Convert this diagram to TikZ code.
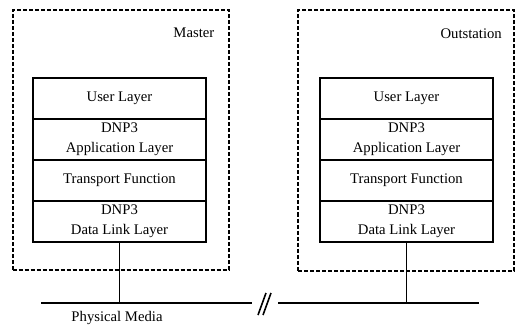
\documentclass[tikz,border=0pt]{standalone}
\usepackage{fontspec}
\setmainfont{Liberation Serif}
\usetikzlibrary{positioning}
\tikzset{
  layer/.style   = {draw,line width=2pt,minimum width=173pt,minimum height=41pt,
                    inner sep=0pt,outer sep=0pt,align=center,
                    font=\fontsize{14.7}{20}\selectfont},
  station/.style = {draw,line width=2pt,dash pattern=on 4pt off 2pt,
                    minimum width=216pt,minimum height=260pt,inner sep=0pt,outer sep=0pt},
  tag/.style     = {inner sep=0pt,anchor=east,font=\fontsize{14.7}{18}\selectfont},
  bus/.style     = {line width=1.6pt},
}
\begin{document}
\begin{tikzpicture}[x=1pt,y=-1pt]
  \useasboundingbox (0,0) rectangle (516,326);
  % stations
  \node[station] (master) at (120.5,140) {};
  \node[station] (outst) at (406,140.5) {};
  \node[tag] (mtag) at ([xshift=-14pt,yshift=-23pt]master.north east) {Master};
  \node[tag] (otag) at ([xshift=-12pt,yshift=-23pt]outst.north east) {Outstation};
  % master stack
  \node[layer,anchor=north] (mul) at (119.5,78) {User Layer};
  \node[layer,below=0pt of mul] (mal) {DNP3\\Application Layer};
  \node[layer,below=0pt of mal] (mtf) {Transport Function};
  \node[layer,below=0pt of mtf] (mdl) {DNP3\\Data Link Layer};
  % outstation stack
  \node[layer,anchor=north] (oul) at (406.5,78) {User Layer};
  \node[layer,below=0pt of oul] (oal) {DNP3\\Application Layer};
  \node[layer,below=0pt of oal] (otf) {Transport Function};
  \node[layer,below=0pt of otf] (odl) {DNP3\\Data Link Layer};
  % physical media
  \coordinate (busl) at (41,303);
  \coordinate (busm) at (252,303);
  \coordinate (busn) at (278,303);
  \coordinate (busr) at (479,303);
  \draw[bus] (busl) -- (busm);
  \draw[bus] (busn) -- (busr);
  \draw[bus] (258,315) -- (266,293);
  \draw[bus] (263,315) -- (271,293);
  \draw[bus] (mdl.south) -- (mdl.south |- busl);
  \draw[bus] (odl.south) -- (odl.south |- busr);
  \node[tag,anchor=center] (media) at (117,318) {Physical Media};
\end{tikzpicture}
\end{document}
